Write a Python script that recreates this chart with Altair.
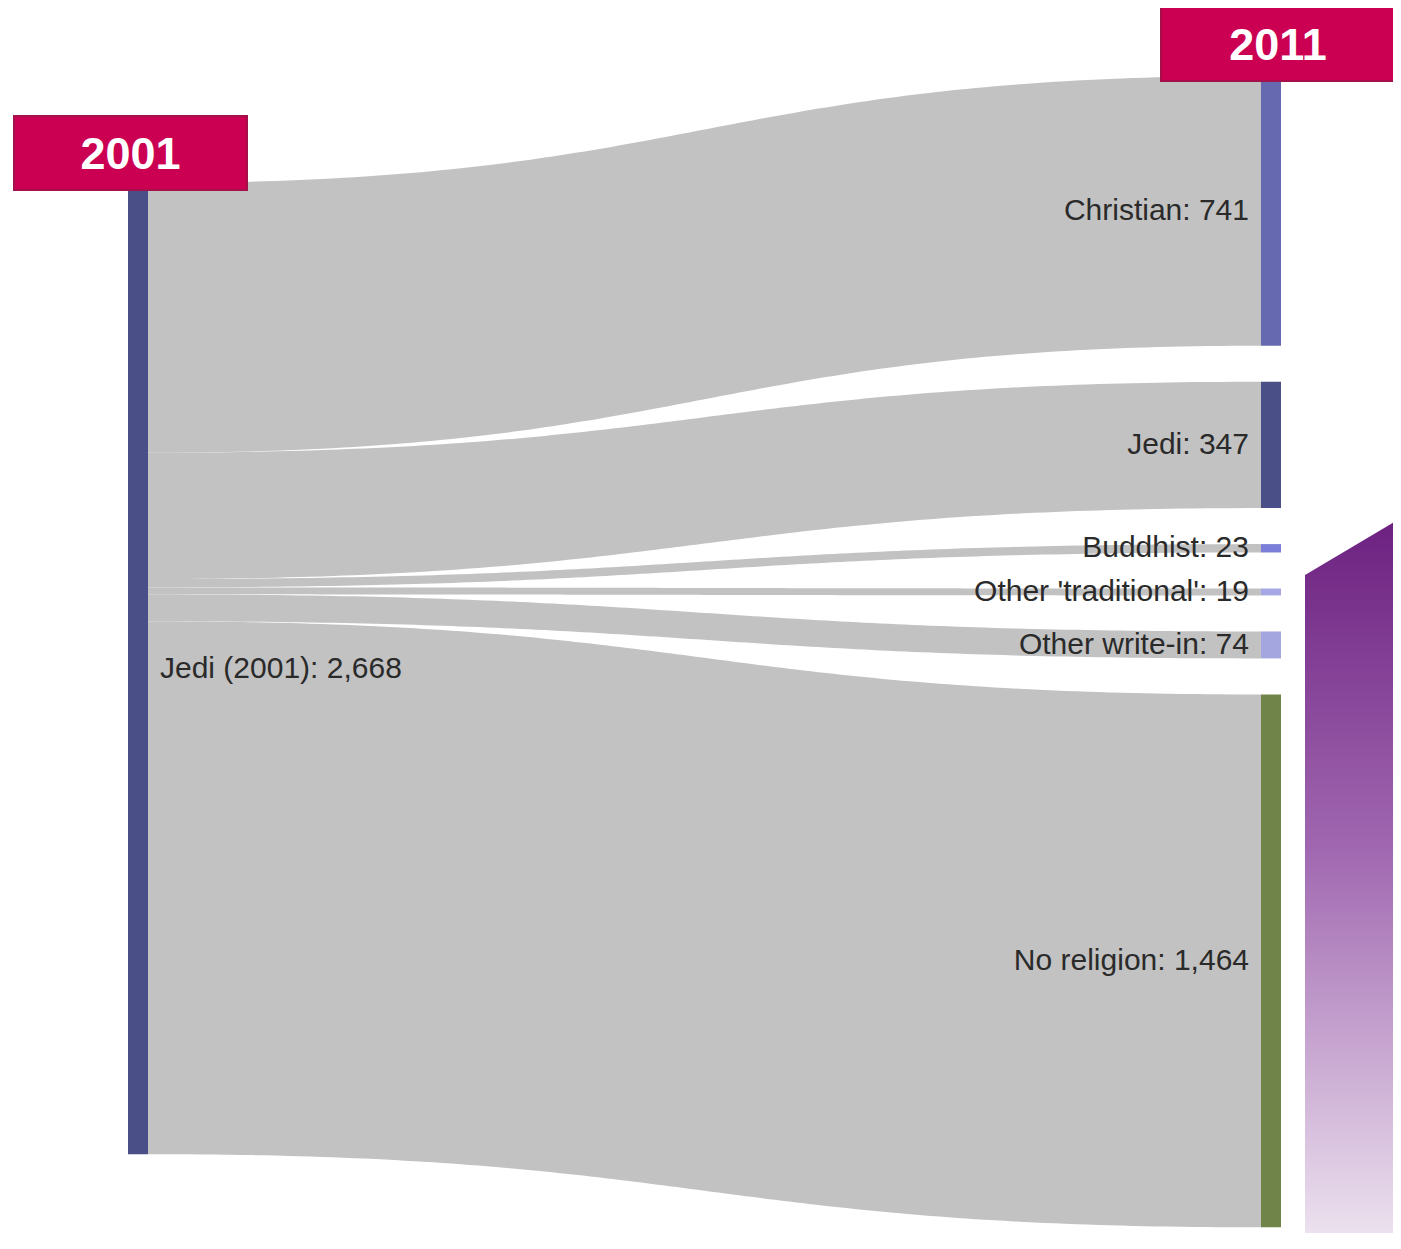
import altair as alt
import pandas as pd
import numpy as np

# ---------------- data ----------------
SOURCE = "Jedi (2001)"
TARGETS = ["Christian", "Jedi", "Buddhist", "Other 'traditional'", "Other write-in", "No religion"]
VALUES = [741, 347, 23, 19, 74, 1464]
SOURCE_COLOR = "#4b4f87"
TARGET_COLORS = ["#6669b0", "#4b4f87", "#7b7ed8", "#a6a8e6", "#a4a6e0", "#70844a"]
YEARS = ["2001", "2011"]

# ---------------- layout ----------------
W, H = 1385, 1225
PX_X = 1113.0      # px between the two node columns
X0_PX = 140.0      # px of the left column's inner edge
PX_Y = 0.364       # px per unit of value
Y0_PX = 68.0       # px of the top of the right column
NODE_PAD = 99      # gap between right nodes, in value units
LEFT_OFFSET = 294  # left node top, in value units
NODE_W = 20 / PX_X
LABEL_GAP = 12 / PX_X


def ux(px):
    return (px - X0_PX) / PX_X


def uy(px):
    return (px - Y0_PX) / PX_Y


x_scale = alt.Scale(domain=[ux(0), ux(W)], nice=False, zero=False)
y_scale = alt.Scale(domain=[uy(0), uy(H)], nice=False, zero=False, reverse=True)

# ---------------- sankey layout ----------------
total = sum(VALUES)
link_rows = []
node_rows = [dict(name=SOURCE, x=-NODE_W, x2=0.0, y=LEFT_OFFSET, y2=LEFT_OFFSET + total)]
right_labels = []
cum = 0
ts = np.linspace(0, 1, 121)
for i, (tgt, v) in enumerate(zip(TARGETS, VALUES)):
    l_top = LEFT_OFFSET + cum
    r_top = cum + i * NODE_PAD
    for t in ts:
        xs = 1.5 * t * (1 - t) + t ** 3
        s = 3 * t ** 2 - 2 * t ** 3
        top = l_top + (r_top - l_top) * s
        link_rows.append(dict(link=tgt, x=xs, y=top, y2=top + v))
    node_rows.append(dict(name=tgt, x=1.0, x2=1.0 + NODE_W, y=r_top, y2=r_top + v))
    right_labels.append(dict(text=f"{tgt}: {v:,}", x=1.0 - LABEL_GAP, y=r_top + v / 2))
    cum += v

links = pd.DataFrame(link_rows)
nodes = pd.DataFrame(node_rows)
rlab = pd.DataFrame(right_labels)
llab = pd.DataFrame([dict(text=f"{SOURCE}: {total:,}", x=LABEL_GAP, y=LEFT_OFFSET + total / 2)])

boxes = pd.DataFrame([
    dict(text=YEARS[0], x=ux(6), x2=ux(239), y=uy(108), y2=uy(182)),
    dict(text=YEARS[1], x=ux(1153), x2=ux(1387), y=uy(-1), y2=uy(73)),
])
boxes["xc"] = (boxes.x + boxes.x2) / 2
boxes["yc"] = (boxes.y + boxes.y2) / 2

deco = pd.DataFrame([
    dict(x=ux(1297), y=uy(567), y2=uy(1241)),
    dict(x=ux(1393), y=uy(510), y2=uy(1241)),
])

X = lambda f="x": alt.X(f"{f}:Q", scale=x_scale, axis=None)
Y = lambda f="y": alt.Y(f"{f}:Q", scale=y_scale, axis=None)

link_layer = alt.Chart(links).mark_area(color="#c2c2c2", interpolate="linear").encode(
    x=X(), y=Y(), y2="y2:Q", detail="link:N"
)

node_layer = alt.Chart(nodes).mark_rect().encode(
    x=X(), x2="x2:Q", y=Y(), y2="y2:Q",
    color=alt.Color("name:N", legend=None,
                    scale=alt.Scale(domain=[SOURCE] + TARGETS,
                                    range=[SOURCE_COLOR] + TARGET_COLORS)),
)

FONT = "Liberation Sans"
rtext = alt.Chart(rlab).mark_text(align="right", baseline="middle", font=FONT,
                                  fontSize=30, color="#2a2a2a").encode(
    x=X(), y=Y(), text="text:N")
ltext = alt.Chart(llab).mark_text(align="left", baseline="middle", font=FONT,
                                  fontSize=30, color="#2a2a2a").encode(
    x=X(), y=Y(), text="text:N")

box_layer = alt.Chart(boxes).mark_rect(color="#cc0052", stroke="#a3104a", strokeWidth=2).encode(
    x=X(), x2="x2:Q", y=Y(), y2="y2:Q")
box_text = alt.Chart(boxes).mark_text(align="center", baseline="middle", font=FONT,
                                      fontSize=45, fontWeight="bold", color="white", dy=2).encode(
    x=X("xc"), y=Y("yc"), text="text:N")

deco_layer = alt.Chart(deco).mark_area(
    interpolate="linear",
    color=alt.Gradient(gradient="linear", x1=0, x2=0, y1=0, y2=1,
                       stops=[alt.GradientStop(color="#6c2080", offset=0),
                              alt.GradientStop(color="#a067b0", offset=0.45),
                              alt.GradientStop(color="#efe6f1", offset=1)]),
).encode(x=X(), y=Y(), y2="y2:Q")

chart = alt.layer(
    deco_layer, link_layer, node_layer, rtext, ltext, box_layer, box_text
).properties(
    width=W, height=H, autosize=alt.AutoSizeParams(type="none"), padding=0
).configure_view(stroke=None)

chart.save("out.html", embed_options={"renderer": "svg", "actions": False})
